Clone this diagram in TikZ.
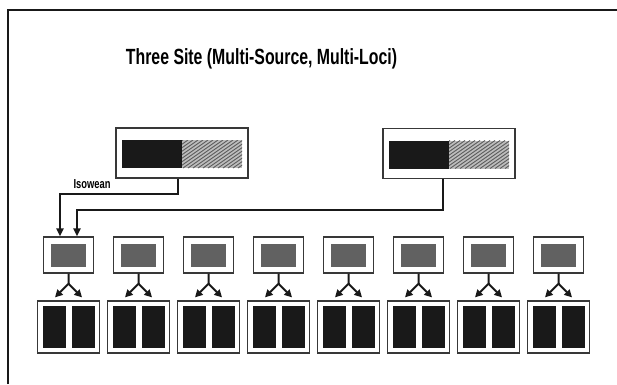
\documentclass[tikz,border=0pt]{standalone}
\usepackage{fontspec}
\setmainfont{Liberation Sans}
\newfontfamily\condfont[FakeStretch=0.72]{Liberation Sans}
\usetikzlibrary{arrows.meta,calc}

\definecolor{inkdark}{gray}{0.10}
\definecolor{boxline}{gray}{0.22}
\definecolor{midgray}{gray}{0.38}
\definecolor{hatchbg}{gray}{0.74}
\definecolor{hatchln}{gray}{0.36}

\tikzset{
  box/.style={draw=boxline, line width=1.3pt, fill=white, inner sep=0pt},
  srcbox/.style={box, minimum width=132pt, minimum height=50pt},
  hubbox/.style={box, minimum width=50pt, minimum height=36pt},
  leafbox/.style={box, minimum width=62pt, minimum height=52pt},
  conn/.style={line width=2pt, draw=inkdark, -{Triangle[length=8pt,width=7pt]}},
  fanout/.style={line width=2pt, draw=inkdark, -{Triangle[length=7.5pt,width=7.5pt]}},
  % black half and hatched half inside a source box
  srcinner/.pic={
    \fill[inkdark] (-60,-13) rectangle (0,15);
    \fill[hatchbg] (0,-13) rectangle (60,15);
    \begin{scope}
      \clip (0,-13) rectangle (60,15);
      \foreach \k in {-44,-39,...,64}
        \draw[hatchln, line width=0.9pt] (\k,15) -- ++(40,-28);
    \end{scope}
  },
  hubinner/.pic={\fill[midgray] (-17.5,-11.5) rectangle (17.5,11.5);},
  leafinner/.pic={
    \fill[inkdark] (-26,-21) rectangle (-3,21);
    \fill[inkdark] (3,-21) rectangle (26,21);
  }
}

\begin{document}
\begin{tikzpicture}[x=1pt,y=-1pt]
\useasboundingbox (0,0) rectangle (617,384);

% outer frame (left and top edges)
\draw[inkdark, line width=2.5pt] (8,384) -- (8,10) -- (617,10);

\node (title) at (261.5,59)
  {\condfont\bfseries\fontsize{22}{25}\selectfont Three Site (Multi-Source, Multi-Loci)};

% source sites
\node[srcbox] (srcA) at (182,153) {};
\pic at (srcA.center) {srcinner};
\node[srcbox] (srcB) at (449,153.5) {};
\pic at (srcB.center) {srcinner};

% hubs and their leaf pairs
\foreach \i in {1,...,8} {
  \pgfmathsetmacro{\cx}{68.5+70*(\i-1)}
  \node[hubbox] (hub\i) at (\cx,255) {};
  \pic at (hub\i.center) {hubinner};
  \node[leafbox] (leaf\i) at (\cx,327) {};
  \pic at (leaf\i.center) {leafinner};
  \draw[fanout] (hub\i.south) -- ++(0,10) coordinate (br\i)
        -- ([xshift=-13.5pt,yshift=3pt]leaf\i.north);
  \draw[fanout] (br\i) -- ([xshift=13.5pt,yshift=3pt]leaf\i.north);
}

% source-to-hub connectors
\draw[conn] ([xshift=-4pt]srcA.south) -- ++(0,15) -| ([xshift=-8.5pt]hub1.north);
\draw[conn] ([xshift=-6pt]srcB.south) -- ++(0,30.5) -| ([xshift=8.5pt]hub1.north);

\node (isowean) at (92,184)
  {\condfont\bfseries\fontsize{13}{14}\selectfont Isowean};
\end{tikzpicture}
\end{document}
